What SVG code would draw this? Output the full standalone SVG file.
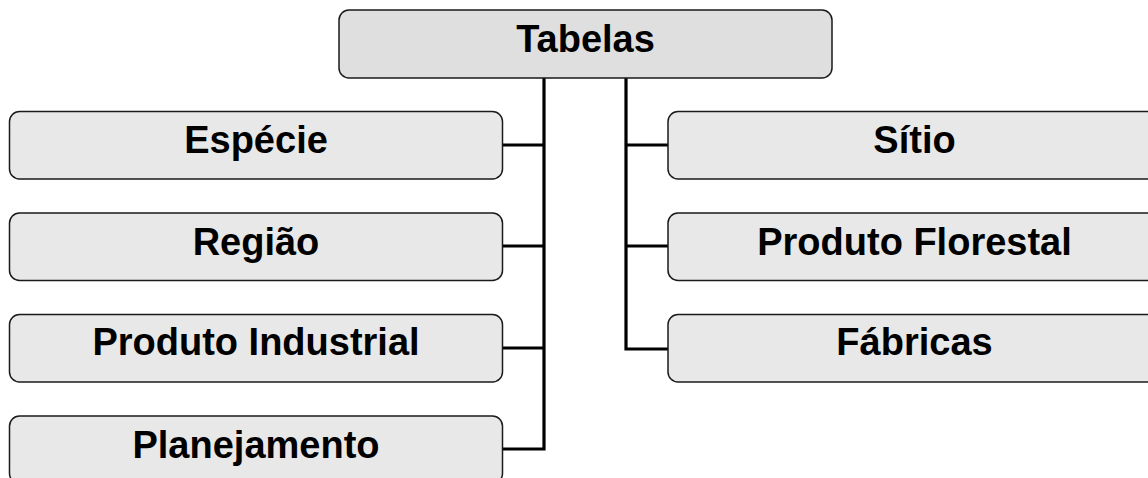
<svg xmlns="http://www.w3.org/2000/svg" width="1148" height="478" viewBox="0 0 1148 478">
<style>
.box{fill:#e8e8e8;stroke:#1a1a1a;stroke-width:1.5}
.root{fill:#dfdfdf}
.lbl{font-family:"Liberation Sans",Arial,sans-serif;font-weight:bold;font-size:38px;text-anchor:middle;fill:#000}
.conn{fill:none;stroke:#000;stroke-width:3.2}
</style>
<rect width="1148" height="478" fill="#fff"/>
<g id="connectors">
<polyline class="conn" points="544,78 544,449 502,449"/>
<line class="conn" x1="502" y1="145" x2="544" y2="145"/>
<line class="conn" x1="502" y1="246" x2="544" y2="246"/>
<line class="conn" x1="502" y1="348" x2="544" y2="348"/>
<polyline class="conn" points="626,78 626,349 668,349"/>
<line class="conn" x1="626" y1="145" x2="668" y2="145"/>
<line class="conn" x1="626" y1="246" x2="668" y2="246"/>
</g>
<g id="tabelas"><rect class="box root" x="339" y="10" width="493" height="68" rx="10"/><text class="lbl" x="585.5" y="51.5">Tabelas</text></g>
<g id="especie"><rect class="box" x="9.5" y="111.5" width="493" height="67.5" rx="10"/><text class="lbl" x="256" y="153">Espécie</text></g>
<g id="regiao"><rect class="box" x="9.5" y="213" width="493" height="67.5" rx="10"/><text class="lbl" x="256" y="254.5">Região</text></g>
<g id="produto-industrial"><rect class="box" x="9.5" y="314.5" width="493" height="67.5" rx="10"/><text class="lbl" x="256" y="355">Produto Industrial</text></g>
<g id="planejamento"><rect class="box" x="9.5" y="416" width="493" height="67.5" rx="10"/><text class="lbl" x="256" y="457.5">Planejamento</text></g>
<g id="sitio"><rect class="box" x="668" y="111.5" width="493" height="67.5" rx="10"/><text class="lbl" x="914.5" y="153">Sítio</text></g>
<g id="produto-florestal"><rect class="box" x="668" y="213" width="493" height="67.5" rx="10"/><text class="lbl" x="914.5" y="254.5">Produto Florestal</text></g>
<g id="fabricas"><rect class="box" x="668" y="314.5" width="493" height="67.5" rx="10"/><text class="lbl" x="914.5" y="355">Fábricas</text></g>
</svg>
